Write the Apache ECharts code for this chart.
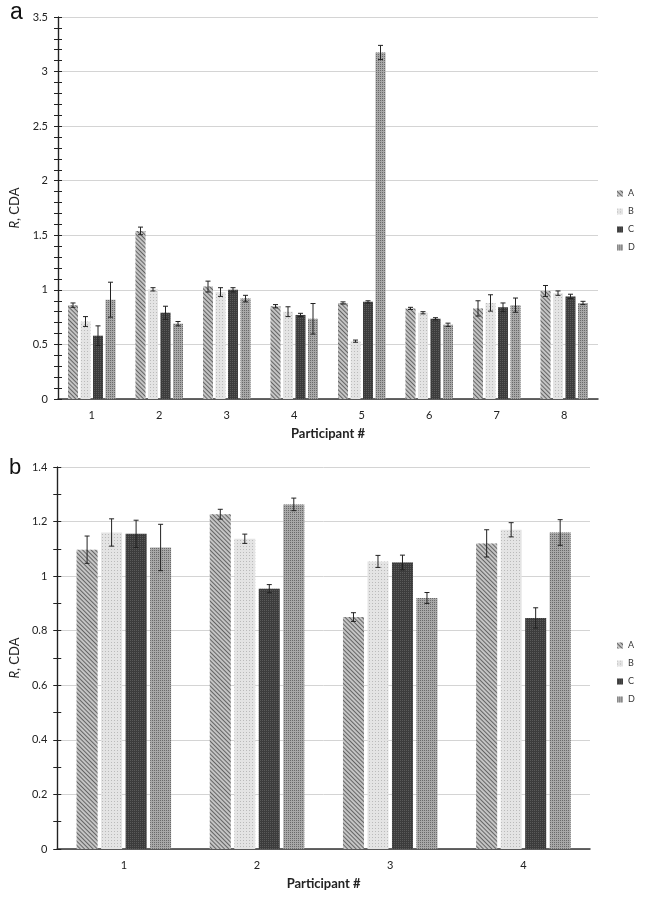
<!DOCTYPE html>
<html><head><meta charset="utf-8">
<script src="https://cdn.jsdelivr.net/npm/echarts@6/dist/echarts.min.js"></script>
<style>html,body{margin:0;padding:0;background:#fff}#c{width:645px;height:901px}</style>
</head><body><div id="c"></div>
<script>
// ---- data ----
const seriesNames = ['A', 'B', 'C', 'D'];
const catsA = ['1', '2', '3', '4', '5', '6', '7', '8'];
const aA = [0.86, 1.54, 1.03, 0.85, 0.88, 0.83, 0.83, 0.99];
const aB = [0.71, 1.005, 0.98, 0.80, 0.53, 0.79, 0.88, 0.97];
const aC = [0.58, 0.79, 1.00, 0.77, 0.89, 0.735, 0.84, 0.94];
const aD = [0.91, 0.69, 0.92, 0.735, 3.175, 0.68, 0.86, 0.88];
const aErrA = [0.02, 0.035, 0.05, 0.015, 0.01, 0.01, 0.07, 0.05];
const aErrB = [0.045, 0.015, 0.04, 0.045, 0.01, 0.01, 0.075, 0.02];
const aErrC = [0.09, 0.06, 0.02, 0.015, 0.01, 0.01, 0.04, 0.02];
const aErrD = [0.16, 0.02, 0.03, 0.14, 0.065, 0.015, 0.065, 0.015];

const catsB = ['1', '2', '3', '4'];
const bA = [1.097, 1.227, 0.85, 1.12];
const bB = [1.16, 1.137, 1.054, 1.17];
const bC = [1.155, 0.954, 1.05, 0.847];
const bD = [1.105, 1.263, 0.92, 1.16];
const bErrA = [0.05, 0.018, 0.016, 0.05];
const bErrB = [0.05, 0.017, 0.022, 0.026];
const bErrC = [0.05, 0.015, 0.027, 0.037];
const bErrD = [0.085, 0.023, 0.02, 0.047];

const yTicksA = { min: 0, max: 3.5, interval: 0.5 };
const yTicksB = { min: 0, max: 1.4, interval: 0.2 };

// ---- styles ----
const FONT = 'Lato';
const styles = [
  { color: '#c4c4c4', decal: { symbol: 'rect', symbolSize: 1, color: 'rgba(60,60,60,0.7)', dashArrayX: [[1, 0]], dashArrayY: [1, 2], rotation: Math.PI / 4 } },
  { color: '#e4e4e4', decal: { symbol: 'circle', symbolSize: 0.8, color: 'rgba(100,100,100,0.75)', dashArrayX: [1, 1.5], dashArrayY: [1, 1.5], rotation: 0 } },
  { color: '#3c3c3c', decal: { symbol: 'rect', symbolSize: 1, color: 'rgba(110,110,110,0.6)', dashArrayX: [1, 1], dashArrayY: [1, 1], rotation: 0 } },
  { color: '#a8a8a8', decal: { symbol: 'rect', symbolSize: 1, color: 'rgba(80,80,80,0.7)', dashArrayX: [1, 1], dashArrayY: [1, 1], rotation: 0 } }
];

function errRender(pos, bw, gap) {
  return function (params, api) {
    const x = api.value(0), y = api.value(1), e = api.value(2);
    const hi = api.coord([x, y + e]);
    const lo = api.coord([x, y - e]);
    const cx = hi[0] + (pos - 1.5) * (bw + gap);
    const cap = 2.5;
    const st = { stroke: '#222', lineWidth: 1 };
    return {
      type: 'group', children: [
        { type: 'line', shape: { x1: cx, y1: hi[1], x2: cx, y2: lo[1] }, style: st },
        { type: 'line', shape: { x1: cx - cap, y1: hi[1], x2: cx + cap, y2: hi[1] }, style: st },
        { type: 'line', shape: { x1: cx - cap, y1: lo[1], x2: cx + cap, y2: lo[1] }, style: st }
      ]
    };
  };
}

function makeYAxes(gridIndex, t, main) {
  const base = {
    type: 'value', gridIndex: gridIndex, position: 'left', min: t.min, max: t.max, interval: t.interval,
    axisLine: { show: true, lineStyle: { color: '#222', width: 1.2 } }
  };
  if (main) {
    return Object.assign({}, base, {
      name: '{i|R}, CDA', nameLocation: 'middle', nameGap: gridIndex === 0 ? 28 : 26,
      nameTextStyle: { fontFamily: FONT, fontSize: 13, color: '#222', rich: { i: { fontStyle: 'italic', fontFamily: FONT, fontSize: 13, color: '#222' } } },
      axisLabel: { fontFamily: FONT, fontSize: 11, color: '#222', margin: 10 },
      axisTick: { show: true, length: 4, lineStyle: { color: '#222' } },
      minorTick: { show: true, splitNumber: t.interval === 0.5 ? 5 : 2, length: 4, lineStyle: { color: '#222' } },
      splitLine: { show: true, lineStyle: { color: '#d4d4d4', width: 1 } }
    });
  }
  return Object.assign({}, base, {
    axisLabel: { show: false },
    axisTick: { show: true, inside: true, length: 4, lineStyle: { color: '#222' } },
    minorTick: { show: true, splitNumber: t.interval === 0.5 ? 5 : 2, length: 4, lineStyle: { color: '#222' } },
    splitLine: { show: false }
  });
}

function xAxisCfg(gridIndex, cats) {
  return {
    type: 'category', gridIndex: gridIndex, data: cats,
    name: 'Participant #', nameLocation: 'middle', nameGap: 28,
    nameTextStyle: { fontFamily: FONT, fontSize: 13, fontWeight: 'bold', color: '#222' },
    axisLine: { lineStyle: { color: '#333', width: 1.5 } },
    axisTick: { show: false },
    axisLabel: { fontFamily: FONT, fontSize: 11, color: '#222', margin: 11 }
  };
}

const setsA = [aA, aB, aC, aD], errsA = [aErrA, aErrB, aErrC, aErrD];
const setsB = [bA, bB, bC, bD], errsB = [bErrA, bErrB, bErrC, bErrD];
const BW_A = 10, GAP_A = 2.5, BW_B = 21, GAP_B = 3.5;

const series = [];
seriesNames.forEach(function (n, i) {
  series.push({ name: n, type: 'bar', xAxisIndex: 0, yAxisIndex: 0, data: setsA[i], barWidth: BW_A, barGap: (GAP_A / BW_A * 100) + '%', itemStyle: { color: styles[i].color, decal: styles[i].decal }, z: 2 });
});
seriesNames.forEach(function (n, i) {
  series.push({ name: n, type: 'bar', xAxisIndex: 1, yAxisIndex: 2, data: setsB[i], barWidth: BW_B, barGap: (GAP_B / BW_B * 100) + '%', itemStyle: { color: styles[i].color, decal: styles[i].decal }, z: 2 });
});
seriesNames.forEach(function (n, i) {
  series.push({ name: n + ' err', type: 'custom', xAxisIndex: 0, yAxisIndex: 0, renderItem: errRender(i, BW_A, GAP_A), data: setsA[i].map(function (v, k) { return [k, v, errsA[i][k]]; }), z: 5, silent: true });
  series.push({ name: n + ' err', type: 'custom', xAxisIndex: 1, yAxisIndex: 2, renderItem: errRender(i, BW_B, GAP_B), data: setsB[i].map(function (v, k) { return [k, v, errsB[i][k]]; }), z: 5, silent: true });
});

const legendBase = {
  orient: 'vertical', data: seriesNames, itemWidth: 6, itemHeight: 6, itemGap: 9,
  textStyle: { fontFamily: FONT, fontSize: 9, color: '#333' }, icon: 'rect', selectedMode: false
};

const chart = echarts.init(document.getElementById('c'), null, { renderer: 'canvas' });
chart.setOption({
  animation: false,
  backgroundColor: '#ffffff',
  aria: { enabled: true, decal: { show: true } },
  grid: [
    { left: 58, top: 17, width: 540, height: 382 },
    { left: 52, top: 467, width: 538, height: 382 }
  ],
  legend: [
    Object.assign({}, legendBase, { left: 612, top: 184 }),
    Object.assign({}, legendBase, { left: 612, top: 636 })
  ],
  xAxis: [xAxisCfg(0, catsA), xAxisCfg(1, catsB)],
  yAxis: [makeYAxes(0, yTicksA, true), makeYAxes(0, yTicksA, false), makeYAxes(1, yTicksB, true), makeYAxes(1, yTicksB, false)],
  graphic: [
    { type: 'text', left: 10, top: 1, style: { text: 'a', fontFamily: 'Liberation Sans', fontSize: 23, fill: '#111' } },
    { type: 'text', left: 9, top: 457, style: { text: 'b', fontFamily: 'Liberation Sans', fontSize: 22, fill: '#111' } }
  ],
  series: series
});
</script>
</body></html>
